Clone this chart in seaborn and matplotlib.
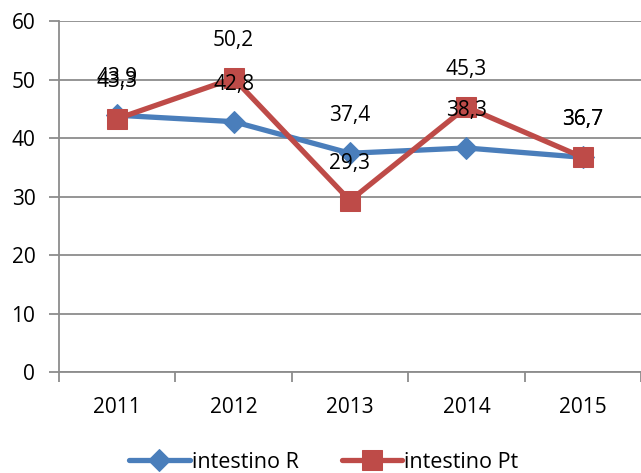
import matplotlib
matplotlib.use("Agg")
import matplotlib.pyplot as plt
import seaborn as sns
import pandas as pd
import numpy as np
from matplotlib.ticker import FixedLocator

years = ["2011", "2012", "2013", "2014", "2015"]
intestino_R = [43.9, 42.8, 37.4, 38.3, 36.7]
intestino_Pt = [43.3, 50.2, 29.3, 45.3, 36.7]
series_names = ["intestino R", "intestino Pt"]

sns.set_style("white")
plt.rcParams["font.family"] = ["Open Sans", "DejaVu Sans"]

df = pd.DataFrame({
    "year": years * 2,
    "value": intestino_R + intestino_Pt,
    "series": [series_names[0]] * 5 + [series_names[1]] * 5,
})

fig = plt.figure(figsize=(6.41, 4.73), dpi=100)
ax = fig.add_axes([0.092, 0.2135, 0.908, 0.742])

colors = {"intestino R": "#4A7EBB", "intestino Pt": "#BE4B48"}
markers = {"intestino R": "D", "intestino Pt": "s"}
sizes = {"intestino R": 11, "intestino Pt": 14}

for name in series_names:
    sub = df[df["series"] == name]
    sns.lineplot(data=sub, x="year", y="value", ax=ax, color=colors[name],
                 linewidth=3.8, marker=markers[name], markersize=sizes[name],
                 markeredgecolor=colors[name], label=name, sort=False)

for name in series_names:
    sub = df[df["series"] == name]
    for i, v in enumerate(sub["value"]):
        ax.annotate(f"{v:.1f}".replace(".", ","), (i, v), xytext=(0, 27),
                    textcoords="offset points", ha="center", va="center",
                    fontsize=15, color="black")

ax.set_ylim(0, 60)
ax.set_xlim(-0.5, 4.5)
ax.set_yticks(range(0, 61, 10))
ax.yaxis.grid(True, color="#8C8C8C", linewidth=1.3)
ax.xaxis.grid(False)
ax.set_axisbelow(True)
ax.set_xlabel("")
ax.set_ylabel("")
ax.tick_params(axis="y", labelsize=15, length=7, width=1.3, color="#8C8C8C",
               left=True, pad=10, labelcolor="black")
ax.tick_params(axis="x", which="major", labelsize=15, length=0, pad=18,
               labelcolor="black")
ax.xaxis.set_minor_locator(FixedLocator(np.arange(-0.5, 4.6, 1)))
ax.tick_params(axis="x", which="minor", length=7, width=1.3, color="#8C8C8C",
               bottom=True)
for s in ["top", "right"]:
    ax.spines[s].set_visible(False)
for s in ["left", "bottom"]:
    ax.spines[s].set_color("#8C8C8C")
    ax.spines[s].set_linewidth(1.3)

ax.legend(loc="center", bbox_to_anchor=(0.455, -0.257), ncol=2,
          frameon=False, fontsize=15.5, handlelength=2.8, columnspacing=2.0,
          handletextpad=0.1, labelcolor="black")

fig.savefig("out.png", dpi=100)
